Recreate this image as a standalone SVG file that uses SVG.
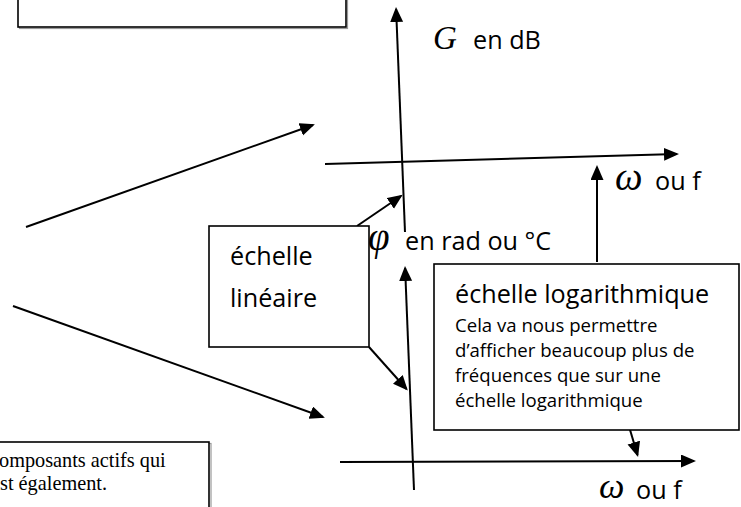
<svg xmlns="http://www.w3.org/2000/svg" width="741" height="507" viewBox="0 0 741 507">
<defs>
<marker id="ah" markerUnits="userSpaceOnUse" markerWidth="16" markerHeight="14" refX="13" refY="6.5" orient="auto">
<path d="M0,0 L15,6.5 L0,13 z" fill="#000"/>
</marker>
<style>
.box{fill:#fff;stroke:#000;stroke-width:1.6}
.shadow{fill:none;stroke:#999;stroke-width:1.2}
.ln{fill:none;stroke:#000;stroke-width:2}
.sans{font-family:"Open Sans","Liberation Sans",sans-serif;fill:#000}
.big{font-size:25.2px}
.small{font-size:18.6px}
.math{font-family:"Liberation Serif","DejaVu Serif",serif;font-style:italic;fill:#000}
.serif{font-family:"Liberation Serif","Times New Roman",serif;font-size:20.3px;fill:#000}
</style>
</defs>
<rect width="741" height="507" fill="#fff"/>

<g id="box-top">
<rect class="shadow" x="19.5" y="-20" width="328" height="48.5"/>
<rect class="box" x="18" y="-20" width="328" height="47"/>
</g>

<g id="box-bottom-left">
<rect class="shadow" x="-10" y="443.5" width="221" height="80"/>
<rect class="box" x="-10" y="442" width="219" height="80"/>
<text class="serif" x="-1" y="467">omposants actifs qui</text>
<text class="serif" x="0" y="490">st également.</text>
</g>

<g id="connectors">
<line class="ln" x1="405" y1="232" x2="396.1" y2="9" marker-end="url(#ah)"/>
<line class="ln" x1="325" y1="164" x2="677" y2="154" marker-end="url(#ah)"/>
<line class="ln" x1="26" y1="227" x2="313" y2="125" marker-end="url(#ah)"/>
<line class="ln" x1="13" y1="306" x2="323" y2="417" marker-end="url(#ah)"/>
<line class="ln" x1="357" y1="226" x2="401" y2="196" marker-end="url(#ah)"/>
<line class="ln" x1="369" y1="347" x2="406.5" y2="389" marker-end="url(#ah)"/>
<line class="ln" x1="414" y1="490" x2="405.1" y2="268" marker-end="url(#ah)"/>
<line class="ln" x1="340" y1="462" x2="694" y2="461" marker-end="url(#ah)"/>
<line class="ln" x1="597" y1="262" x2="597" y2="167" marker-end="url(#ah)"/>
<line class="ln" x1="628" y1="423" x2="637.5" y2="455" marker-end="url(#ah)"/>
</g>

<g id="label-G">
<text class="math" x="433" y="49" font-size="33">G</text>
<text class="sans big" x="473" y="49">en dB</text>
</g>

<g id="label-omega-top">
<text class="math" x="615" y="190" font-size="39">ω</text>
<text class="sans big" x="655" y="190">ou f</text>
</g>

<g id="label-phi">
<text class="math" x="368" y="250" font-size="39">φ</text>
<text class="sans big" x="405" y="250">en rad ou °C</text>
</g>

<g id="box-lineaire">
<rect class="box" x="209" y="226" width="160" height="121"/>
<text class="sans big" x="230" y="265">échelle</text>
<text class="sans big" x="230" y="307">linéaire</text>
</g>

<g id="box-log">
<rect class="box" x="434" y="264" width="305" height="166"/>
<text class="sans big" x="455" y="303">échelle logarithmique</text>
<text class="sans small" x="455" y="332">Cela va nous permettre</text>
<text class="sans small" x="455" y="357">d’afficher beaucoup plus de</text>
<text class="sans small" x="455" y="382">fréquences que sur une</text>
<text class="sans small" x="455" y="407">échelle logarithmique</text>
</g>

<g id="label-omega-bottom">
<text class="math" x="599" y="498" font-size="36">ω</text>
<text class="sans big" x="636" y="499">ou f</text>
</g>
</svg>
